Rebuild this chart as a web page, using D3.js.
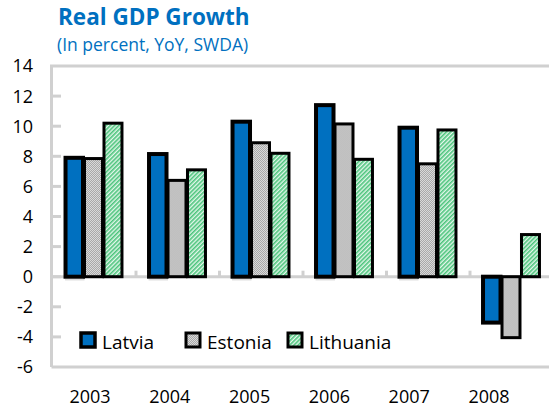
<!DOCTYPE html>
<html>
<head>
<meta charset="utf-8">
<script src="https://cdn.jsdelivr.net/npm/d3@7"></script>
<style>
  body { margin: 0; background: #fff; }
  text { font-family: "Open Sans", Lato, sans-serif; }
</style>
</head>
<body>
<svg id="chart" width="549" height="409"></svg>
<script>
const years = ['2003', '2004', '2005', '2006', '2007', '2008'];
const countries = ['Latvia', 'Estonia', 'Lithuania'];
const latvia = [7.9, 8.15, 10.3, 11.4, 9.9, -3.05];
const estonia = [7.85, 6.4, 8.9, 10.15, 7.5, -4.05];
const lithuania = [10.2, 7.1, 8.2, 7.8, 9.75, 2.8];
const yTicks = [-6, -4, -2, 0, 2, 4, 6, 8, 10, 12, 14];

const series = { Latvia: latvia, Estonia: estonia, Lithuania: lithuania };
const rows = years.map((year, i) => ({
  year,
  values: countries.map((c) => ({ country: c, value: series[c][i] })),
}));

const svg = d3.select('#chart');
const blue = '#0070c0';
const frameGray = '#d0d0d0';

// patterns for Estonia / Lithuania fills
const defs = svg.append('defs');
const checker = defs.append('pattern')
  .attr('id', 'checker').attr('width', 2).attr('height', 2)
  .attr('patternUnits', 'userSpaceOnUse');
checker.append('rect').attr('width', 2).attr('height', 2).attr('fill', '#dadada');
checker.append('rect').attr('width', 1).attr('height', 1).attr('fill', '#a8a8a8');
checker.append('rect').attr('x', 1).attr('y', 1).attr('width', 1).attr('height', 1).attr('fill', '#a8a8a8');

const hatch = defs.append('pattern')
  .attr('id', 'hatch').attr('width', 3).attr('height', 3)
  .attr('patternUnits', 'userSpaceOnUse')
  .attr('patternTransform', 'rotate(-45)');
hatch.append('rect').attr('width', 3).attr('height', 3).attr('fill', '#e4f7eb');
hatch.append('rect').attr('width', 3).attr('height', 1.6).attr('fill', '#4cc47c');

const fills = { Latvia: blue, Estonia: 'url(#checker)', Lithuania: 'url(#hatch)' };
const strokes = { Latvia: 4, Estonia: 3, Lithuania: 3 };

const plot = { left: 51.5, right: 560, top: 66, bottom: 367 };

const y = d3.scaleLinear().domain([-6, 14]).range([plot.bottom, plot.top]);
const x = d3.scaleBand().domain(years).range([52.5, 553.5]).paddingInner(0.3).paddingOuter(0.15);
const x0 = d3.scaleBand().domain(years).range([52.5, 553.5]);
const xSub = d3.scaleBand().domain(countries).range([0, x.bandwidth()]);
const xLabel = d3.scalePoint().domain(years).range([90, 489]);

// title
svg.append('text').attr('x', 58).attr('y', 25)
  .attr('fill', blue).attr('font-weight', 'bold').attr('font-size', 22.5)
  .text('Real GDP Growth');
svg.append('text').attr('x', 57).attr('y', 51)
  .attr('fill', blue).attr('font-size', 17.5)
  .text('(In percent, YoY, SWDA)');

// frame
svg.append('path')
  .attr('d', `M${plot.left},${plot.bottom}V${plot.top}H${plot.right}`)
  .attr('fill', 'none').attr('stroke', frameGray).attr('stroke-width', 3);
svg.append('line')
  .attr('x1', plot.left).attr('x2', plot.right)
  .attr('y1', plot.bottom).attr('y2', plot.bottom)
  .attr('stroke', frameGray).attr('stroke-width', 3);

// y ticks + labels
const yAxis = svg.append('g');
yAxis.selectAll('line')
  .data(yTicks.filter((d) => d > -6 && d < 14))
  .join('line')
  .attr('x1', plot.left).attr('x2', 61)
  .attr('y1', (d) => y(d)).attr('y2', (d) => y(d))
  .attr('stroke', frameGray).attr('stroke-width', 3);
yAxis.selectAll('text')
  .data(yTicks)
  .join('text')
  .attr('x', 33)
  .attr('y', (d) => y(d))
  .attr('dy', '0.36em')
  .attr('text-anchor', 'end')
  .attr('font-size', 18)
  .attr('fill', '#000')
  .text((d) => d);

// small marks under the zero line
svg.append('g').selectAll('line')
  .data(years.filter((d, i) => latvia[i] >= 0))
  .join('line')
  .attr('x1', (d) => x(d)).attr('x2', (d) => x(d) + xSub.bandwidth())
  .attr('y1', y(0) + 3).attr('y2', y(0) + 3)
  .attr('stroke', '#dcdcdc').attr('stroke-width', 1.5);

// zero line and category ticks (under the bars)
svg.append('line')
  .attr('x1', plot.left).attr('x2', plot.right)
  .attr('y1', y(0)).attr('y2', y(0))
  .attr('stroke', frameGray).attr('stroke-width', 3);
svg.append('g').selectAll('line')
  .data(years.slice(1))
  .join('line')
  .attr('x1', (d) => x0(d)).attr('x2', (d) => x0(d))
  .attr('y1', y(0) - 6).attr('y2', y(0))
  .attr('stroke', frameGray).attr('stroke-width', 3);

// bars
const groups = svg.append('g').selectAll('g')
  .data(rows)
  .join('g')
  .attr('transform', (d) => `translate(${x(d.year)},0)`);
groups.selectAll('rect')
  .data((d) => d.values)
  .join('rect')
  .attr('x', (d) => xSub(d.country) + strokes[d.country] / 2 - 1.5)
  .attr('width', (d) => xSub.bandwidth() - strokes[d.country] / 2)
  .attr('y', (d) => y(Math.max(0, d.value)))
  .attr('height', (d) => Math.abs(y(d.value) - y(0)))
  .attr('fill', (d) => fills[d.country])
  .attr('stroke', '#000')
  .attr('stroke-width', (d) => strokes[d.country]);

// x labels
svg.append('g').selectAll('text')
  .data(years)
  .join('text')
  .attr('x', (d) => xLabel(d))
  .attr('y', 403)
  .attr('text-anchor', 'middle')
  .attr('font-size', 18)
  .attr('fill', '#000')
  .text((d) => d);

// legend
const legendX = d3.scaleOrdinal().domain(countries).range([81, 186, 288]);
const legend = svg.append('g').selectAll('g')
  .data(countries)
  .join('g')
  .attr('transform', (d) => `translate(${legendX(d)},333)`);
legend.append('rect')
  .attr('width', 14).attr('height', 14)
  .attr('fill', (d) => fills[d])
  .attr('stroke', '#000')
  .attr('stroke-width', (d) => (d === 'Latvia' ? 3.5 : 3));
legend.append('text')
  .attr('x', 21).attr('y', 15.5)
  .attr('font-size', 19)
  .attr('fill', '#000')
  .text((d) => d);
</script>
</body>
</html>
